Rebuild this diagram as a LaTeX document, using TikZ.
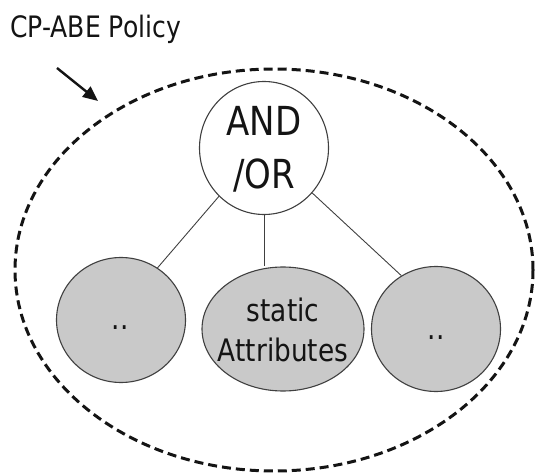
\documentclass[tikz,border=0pt]{standalone}
\usepackage{fontspec}
\setmainfont{DejaVu Sans}[FakeStretch=0.85]
\usetikzlibrary{shapes.geometric,arrows.meta}
\definecolor{inkgray}{HTML}{141414}
\definecolor{edgegray}{HTML}{404040}
\definecolor{leafgray}{HTML}{C9C9C9}
\begin{document}
\begin{tikzpicture}[x=1pt,y=-1pt,
  gate/.style={ellipse,draw=edgegray,line width=1.1pt,fill=white,inner sep=0pt,
    minimum width=129pt,minimum height=133pt},
  leaf/.style={ellipse,draw=edgegray,line width=1.1pt,fill=leafgray,inner sep=0pt},
  lbl/.style={text=inkgray,inner sep=0pt,align=center},
  branch/.style={draw=edgegray,line width=0.9pt},
  boundary/.style={draw=black!92,line width=3pt,dash pattern=on 9pt off 5pt},
  pointer/.style={draw=black!92,line width=2.4pt,-{Triangle[length=15pt,width=13pt]}}]
\useasboundingbox (0,0) rectangle (535,473);

% policy boundary
\draw[boundary] (274,270) ellipse [x radius=259, y radius=201];

% title and pointer
\node[lbl,anchor=base west,font=\fontsize{29.5}{34}\selectfont] (title) at (10,38) {CP-ABE Policy};
\coordinate (ptrA) at (57,68);
\coordinate (ptrB) at (98,101);
\draw[pointer] (ptrA) -- (ptrB);

% gate and leaves
\node[gate] (gate) at (264,148) {};
\node[leaf,minimum width=129pt,minimum height=125pt] (left) at (121,320) {};
\node[leaf,minimum width=162pt,minimum height=124pt] (mid) at (283,329) {};
\node[leaf,minimum width=129pt,minimum height=125pt] (right) at (436,329) {};

% branches
\draw[branch] (gate.227) -- (left.55);
\draw[branch] (gate.south) -- (gate.south |- mid.north);
\draw[branch] (gate.-43) -- (right.123);

% labels
\node[lbl,font=\fontsize{40}{53}\selectfont] (gatetext) at (264,149) {AND\\/OR};
\node[lbl,font=\fontsize{31}{40}\selectfont] (midtext) at (283,330) {static\\Attributes};
\node[lbl,font=\fontsize{31}{36}\selectfont] (lefttext) at (120,328) {..};
\node[lbl,font=\fontsize{31}{36}\selectfont] (righttext) at (436,338) {..};
\end{tikzpicture}
\end{document}
